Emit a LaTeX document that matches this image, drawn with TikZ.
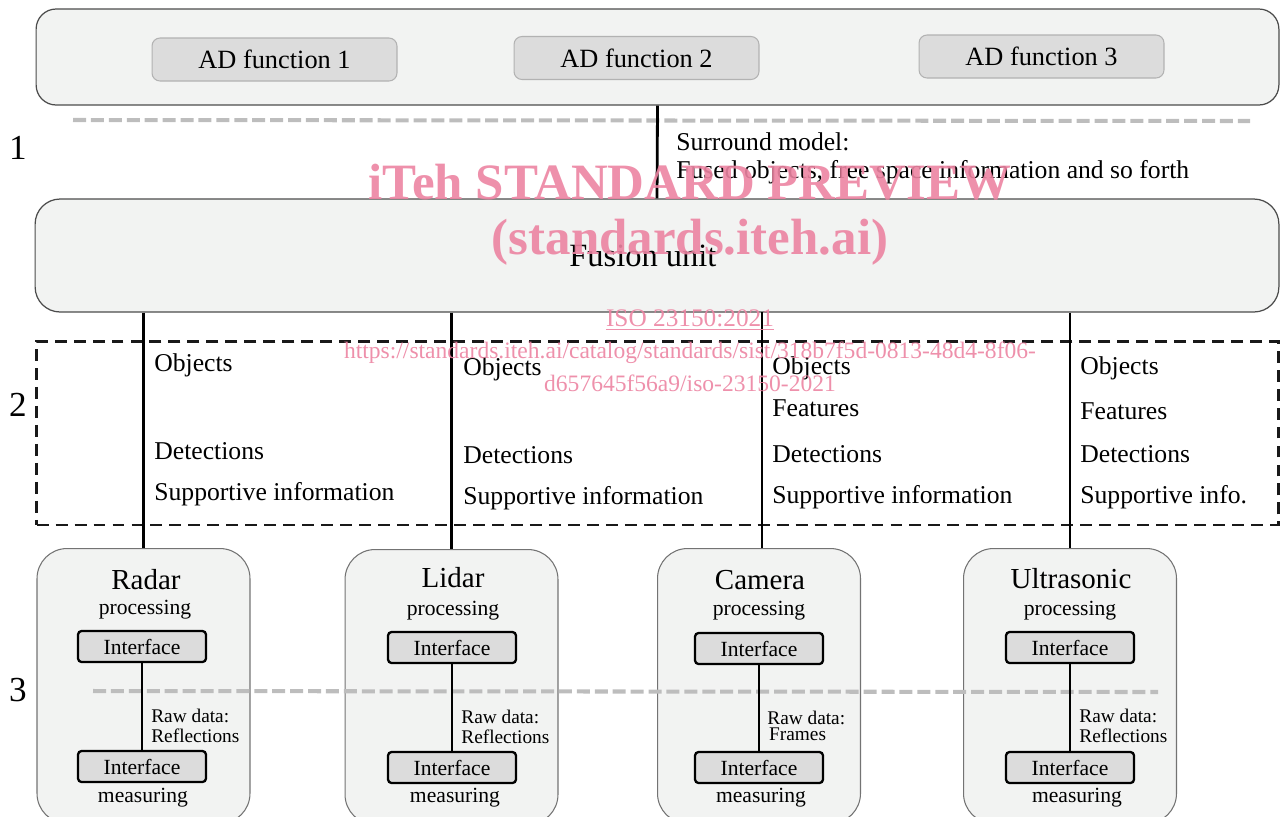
\documentclass[tikz,border=0pt]{standalone}
\usepackage{fontspec}
\setmainfont{Liberation Serif}
\definecolor{panelgray}{HTML}{F2F3F2}
\definecolor{adgray}{HTML}{DCDCDC}
\definecolor{dashgray}{HTML}{BDBDBD}
\definecolor{wmpink}{RGB}{236,132,162}
\begin{document}
\begin{tikzpicture}[x=0.02cm,y=-0.02cm,
  panel/.style={draw=black!70, line width=0.7pt, fill=panelgray},
  adbox/.style={draw=black!30, line width=0.6pt, fill=adgray, rounded corners=0.16cm,
    minimum width=4.9cm, minimum height=0.86cm, inner sep=0pt, font=\fontsize{15}{17}\selectfont},
  sensorbox/.style={draw=black!55, line width=0.6pt, fill=panelgray, rounded corners=0.6cm,
    minimum height=5.5cm, inner sep=0pt},
  ifbox/.style={draw=black, line width=1.3pt, fill=adgray, rounded corners=2pt,
    minimum width=2.56cm, minimum height=0.62cm, inner sep=0pt, font=\fontsize{12.3}{14}\selectfont},
  conn/.style={line width=1.6pt, draw=black},
  greydash/.style={line width=2.3pt, draw=dashgray, dash pattern=on 7.4pt off 2.8pt},
  lbl/.style={font=\fontsize{14.6}{16}\selectfont, anchor=west, inner sep=0pt},
  small/.style={font=\fontsize{11}{12}\selectfont, anchor=west, inner sep=0pt, align=left},
  title/.style={font=\fontsize{16.5}{18}\selectfont, inner sep=0pt},
  sub/.style={font=\fontsize{12.3}{14}\selectfont, inner sep=0pt},
  layernum/.style={font=\fontsize{20}{22}\selectfont, inner sep=0pt},
  wm/.style={text=wmpink, text opacity=0.9, inner sep=0pt}
]
\useasboundingbox (0,0) rectangle (1280,816);
\clip (0,0) rectangle (1280,816);

% top panel with AD functions
\node[panel, rounded corners=0.4cm, minimum width=24.86cm, minimum height=1.92cm, inner sep=0pt] (top) at (657.5,57) {};
\node[adbox] (ad1) at (274.5,59.5) {AD function 1};
\node[adbox] (ad2) at (636.5,58) {AD function 2};
\node[adbox] (ad3) at (1041.5,56.5) {AD function 3};

% fusion unit
\node[panel, rounded corners=0.5cm, minimum width=24.88cm, minimum height=2.26cm, inner sep=0pt,
  font=\fontsize{18.5}{20}\selectfont] (fusion) at (657,255.5) {\hspace*{-16pt}Fusion unit};

% layer 2 dashed box
\node[draw=black!90, line width=1.7pt, dash pattern=on 6.8pt off 4pt, minimum width=24.84cm,
  minimum height=3.68cm, inner sep=0pt] (layer2) at (657.5,433) {};

% sensor boxes
\node[sensorbox, minimum width=4.26cm] (radar) at (143.5,686) {};
\node[sensorbox, minimum width=4.26cm] (lidar) at (451.5,687) {};
\node[sensorbox, minimum width=4.06cm] (camera) at (759,686) {};
\node[sensorbox, minimum width=4.26cm] (ultra) at (1070,686) {};

% interface boxes
\node[ifbox] (rtop) at (142,646.5) {Interface};
\node[ifbox] (rbot) at (142,766.5) {Interface};
\node[ifbox] (ltop) at (452,647.5) {Interface};
\node[ifbox] (lbot) at (452,767.5) {Interface};
\node[ifbox] (ctop) at (759,648.5) {Interface};
\node[ifbox] (cbot) at (759,767.5) {Interface};
\node[ifbox] (utop) at (1070,647.5) {Interface};
\node[ifbox] (ubot) at (1070,767.5) {Interface};

% grey dashed layer separators
\coordinate (g1a) at (73,120); \coordinate (g1b) at (1250,121);
\coordinate (g3a) at (93,691); \coordinate (g3b) at (1158,692);
\draw[greydash] (g1a) -- (g1b);
\draw[greydash] (g3a) -- (g3b);

% connectors
\draw[conn] (top.south) -- (fusion.north);
\draw[conn] (fusion.south -| radar.north) -- (radar.north);
\draw[conn] (fusion.south -| lidar.north) -- (lidar.north);
\coordinate (cam1) at (762,312); \coordinate (cam2) at (762,548);
\draw[conn] (cam1) -- (cam2);
\draw[conn] (fusion.south -| ultra.north) -- (ultra.north);
\draw[conn] (rtop) -- (rbot);
\draw[conn] (ltop) -- (lbot);
\draw[conn] (ctop) -- (cbot);
\draw[conn] (utop) -- (ubot);

% layer numbers
\node[layernum] (n1) at (18,148) {1};
\node[layernum] (n2) at (18,405) {2};
\node[layernum] (n3) at (18,690) {3};

% surround model text
\node[lbl] (sm1) at (676,142) {Surround model:};
\node[lbl] (sm2) at (676,172) {Fused objects, free space information and so forth};

% layer 2 labels
\node[lbl] (c1a) at (154,365) {Objects};
\node[lbl] (c1c) at (154,451) {Detections};
\node[lbl] (c1d) at (154,494) {Supportive information};
\node[lbl] (c2a) at (463,369) {Objects};
\node[lbl] (c2c) at (463,455) {Detections};
\node[lbl] (c2d) at (463,498) {Supportive information};
\node[lbl] (c3a) at (772,368) {Objects};
\node[lbl] (c3b) at (772,408) {Features};
\node[lbl] (c3c) at (772,454) {Detections};
\node[lbl] (c3d) at (772,497) {Supportive information};
\node[lbl] (c4a) at (1080,368) {Objects};
\node[lbl] (c4b) at (1080,411) {Features};
\node[lbl] (c4c) at (1080,454) {Detections};
\node[lbl] (c4d) at (1080,497) {Supportive info.};

% sensor texts
\node[title] (rt) at (146,580) {Radar};
\node[sub] (rp) at (145,610) {processing};
\node[sub] (rm) at (143,798) {measuring};
\node[small] (rr) at (151,726) {Raw data:\\[-1pt]Reflections};
\node[title] (lt) at (453,578) {Lidar};
\node[sub] (lp) at (453,611) {processing};
\node[sub] (lm) at (455,798) {measuring};
\node[small] (lr) at (461,727) {Raw data:\\[-1pt]Reflections};
\node[title] (ct) at (760,580) {Camera};
\node[sub] (cp) at (759,611) {processing};
\node[sub] (cm) at (761,798) {measuring};
\node[small] (cr) at (767,726) {Raw data:\\[-3pt]\hspace*{1pt}Frames};
\node[title] (ut) at (1071,579) {Ultrasonic};
\node[sub] (up) at (1070,611) {processing};
\node[sub] (um) at (1077,798) {measuring};
\node[small] (ur) at (1079,726) {Raw data:\\[-1pt]Reflections};

% watermark
\node[wm, font=\bfseries\fontsize{29}{31}\selectfont] (wm1) at (690,182) {iTeh STANDARD PREVIEW};
\node[wm, font=\bfseries\fontsize{29}{31}\selectfont] (wm2) at (690,242) {(standards.iteh.ai)};
\node[wm, font=\fontsize{14.4}{16}\selectfont] (wm3) at (690,320) {\underline{ISO 23150:2021}};
\node[wm, font=\fontsize{13.4}{15}\selectfont] (wm4) at (690,353) {https://standards.iteh.ai/catalog/standards/sist/318b7f5d-0813-48d4-8f06-};
\node[wm, font=\fontsize{13.4}{15}\selectfont] (wm5) at (690,383) {d657645f56a9/iso-23150-2021};
\end{tikzpicture}
\end{document}
